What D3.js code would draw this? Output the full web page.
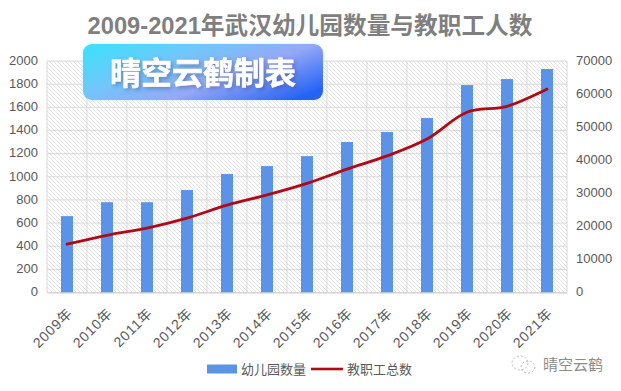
<!DOCTYPE html>
<html>
<head>
<meta charset="utf-8">
<script src="https://cdn.jsdelivr.net/npm/d3@7"></script>
<style>
  html, body { margin: 0; padding: 0; background: #fff; }
  svg { display: block; }
  text { font-family: "Liberation Sans", "Noto Sans CJK SC", sans-serif; }
  .tick text { fill: #595959; font-size: 13px; }
</style>
</head>
<body>
<div id="chart"></div>
<script>
const years = ['2009年', '2010年', '2011年', '2012年', '2013年', '2014年', '2015年', '2016年', '2017年', '2018年', '2019年', '2020年', '2021年'];
const kindergartens = [660, 780, 780, 885, 1023, 1092, 1178, 1300, 1386, 1507, 1792, 1844, 1931];
const staff = [14600, 17300, 19500, 22500, 26400, 29500, 33000, 37300, 41300, 46400, 54500, 56300, 61500];
const leftTicks = [0, 200, 400, 600, 800, 1000, 1200, 1400, 1600, 1800, 2000];
const rightTicks = [0, 10000, 20000, 30000, 40000, 50000, 60000, 70000];
const chartTitle = '2009-2021年武汉幼儿园数量与教职工人数';
const badgeText = '晴空云鹤制表';
const watermark = '晴空云鹤';
const barName = '幼儿园数量';
const lineName = '教职工总数';

const width = 621;
const height = 391;
const area = { left: 47, right: 567, top: 61, bottom: 292.5 };

const svg = d3.select('#chart').append('svg').attr('width', width).attr('height', height);
const defs = svg.append('defs');

// diagonal hatch behind the plot
const hatch = defs.append('pattern')
  .attr('id', 'hatch')
  .attr('width', 4).attr('height', 4)
  .attr('patternUnits', 'userSpaceOnUse');
hatch.append('path').attr('d', 'M-1,-1 L5,5 M-1,3 L1,5 M3,-1 L5,1')
  .attr('stroke', '#d8d8d8').attr('stroke-width', 0.7);

const badgeGrad = defs.append('linearGradient').attr('id', 'badge').attr('x1', '0%').attr('y1', '20%').attr('x2', '100%').attr('y2', '80%');
badgeGrad.append('stop').attr('offset', '0%').attr('stop-color', '#45dcfb');
badgeGrad.append('stop').attr('offset', '30%').attr('stop-color', '#71c6fb');
badgeGrad.append('stop').attr('offset', '62%').attr('stop-color', '#96a8f6');
badgeGrad.append('stop').attr('offset', '100%').attr('stop-color', '#2563f5');

const xBand = d3.scaleBand().domain(years).range([area.left, area.right]);
const yLeft = d3.scaleLinear().domain([0, 2000]).range([area.bottom, area.top]);
const yRight = d3.scaleLinear().domain([0, 70000]).range([area.bottom, area.top]);

svg.append('rect')
  .attr('x', area.left).attr('y', area.top)
  .attr('width', area.right - area.left).attr('height', area.bottom - area.top)
  .attr('fill', 'url(#hatch)');

// gridlines
const grid = svg.append('g').attr('fill', 'none').attr('stroke', '#d9d9d9').attr('stroke-width', 1);
grid.selectAll('line.h')
  .data(leftTicks)
  .join('line')
  .attr('class', 'h')
  .attr('x1', area.left).attr('x2', area.right)
  .attr('y1', (d) => yLeft(d)).attr('y2', (d) => yLeft(d));
grid.selectAll('line.v')
  .data(d3.range(years.length + 1))
  .join('line')
  .attr('class', 'v')
  .attr('x1', (i) => area.left + i * xBand.step()).attr('x2', (i) => area.left + i * xBand.step())
  .attr('y1', area.top).attr('y2', area.bottom);

// bars
const barWidth = 12;
svg.append('g')
  .selectAll('rect')
  .data(years)
  .join('rect')
  .attr('x', (d) => xBand(d) + (xBand.bandwidth() - barWidth) / 2)
  .attr('y', (d, i) => yLeft(kindergartens[i]))
  .attr('width', barWidth)
  .attr('height', (d, i) => yLeft(0) - yLeft(kindergartens[i]))
  .attr('fill', '#5b93e6');

// staff line
const line = d3.line()
  .x((d, i) => xBand(years[i]) + xBand.bandwidth() / 2)
  .y((d) => yRight(d))
  .curve(d3.curveCatmullRom);
svg.append('path')
  .datum(staff)
  .attr('d', line)
  .attr('fill', 'none')
  .attr('stroke', '#b10a16')
  .attr('stroke-width', 2.8)
  .attr('stroke-linecap', 'round');

// axes
const axisLeft = svg.append('g')
  .attr('transform', `translate(${area.left}, 0)`)
  .call(d3.axisLeft(yLeft).tickValues(leftTicks).tickSize(0).tickPadding(9).tickFormat(d3.format('d')));
axisLeft.select('.domain').remove();
axisLeft.selectAll('text').attr('dy', '0.25em');

const axisRight = svg.append('g')
  .attr('transform', `translate(${area.right}, 0)`)
  .call(d3.axisRight(yRight).tickValues(rightTicks).tickSize(0).tickPadding(9).tickFormat(d3.format('d')));
axisRight.select('.domain').remove();
axisRight.selectAll('text').attr('dy', '0.25em');

const axisBottom = svg.append('g')
  .attr('transform', `translate(0, ${area.bottom})`)
  .call(d3.axisBottom(xBand).tickSize(0));
axisBottom.select('.domain').attr('stroke', '#d0d0d0');
axisBottom.selectAll('text')
  .attr('text-anchor', 'end')
  .attr('x', 0)
  .attr('y', 0)
  .attr('dy', '0.35em')
  .style('font-size', '14px')
  .style('letter-spacing', '0.8px')
  .attr('transform', 'translate(3, 18) rotate(-45)');

// title
svg.append('text')
  .attr('x', 310).attr('y', 33.5)
  .attr('text-anchor', 'middle')
  .attr('fill', '#7f7f7f')
  .attr('font-size', 23.7)
  .attr('font-weight', 700)
  .text(chartTitle);

// badge on top of the chart
svg.append('rect')
  .attr('x', 83).attr('y', 44)
  .attr('width', 240).attr('height', 56)
  .attr('rx', 9)
  .attr('fill', 'url(#badge)')
  .style('filter', 'drop-shadow(0 0 2px #c6f4ff)');
svg.append('text')
  .attr('x', 203).attr('y', 84)
  .attr('text-anchor', 'middle')
  .attr('fill', '#fff')
  .attr('stroke', '#fff')
  .attr('stroke-width', 0.6)
  .attr('font-size', 31)
  .attr('font-weight', 700)
  .style('filter', 'drop-shadow(2px 2px 2px rgba(60,70,120,0.45))')
  .text(badgeText);

// legend
const legend = svg.append('g');
legend.append('rect')
  .attr('x', 207).attr('y', 364.5)
  .attr('width', 30).attr('height', 9)
  .attr('fill', '#5b93e6');
legend.append('text')
  .attr('x', 241).attr('y', 374)
  .attr('fill', '#595959').attr('font-size', 13)
  .text(barName);
legend.append('line')
  .attr('x1', 311).attr('x2', 343)
  .attr('y1', 369).attr('y2', 369)
  .attr('stroke', '#b10a16').attr('stroke-width', 2.6);
legend.append('text')
  .attr('x', 347).attr('y', 374)
  .attr('fill', '#595959').attr('font-size', 13)
  .text(lineName);

// faint watermark
const mark = svg.append('g').attr('fill', 'none').attr('stroke', '#bdbdbd').attr('stroke-width', 1).attr('stroke-dasharray', '2 2');
mark.append('ellipse').attr('cx', 520).attr('cy', 363).attr('rx', 8).attr('ry', 7);
mark.append('ellipse').attr('cx', 528).attr('cy', 367).attr('rx', 7).attr('ry', 6);
svg.append('text')
  .attr('x', 543).attr('y', 370)
  .attr('fill', '#8c8c8c').attr('font-size', 15)
  .text(watermark);
</script>
</body>
</html>
